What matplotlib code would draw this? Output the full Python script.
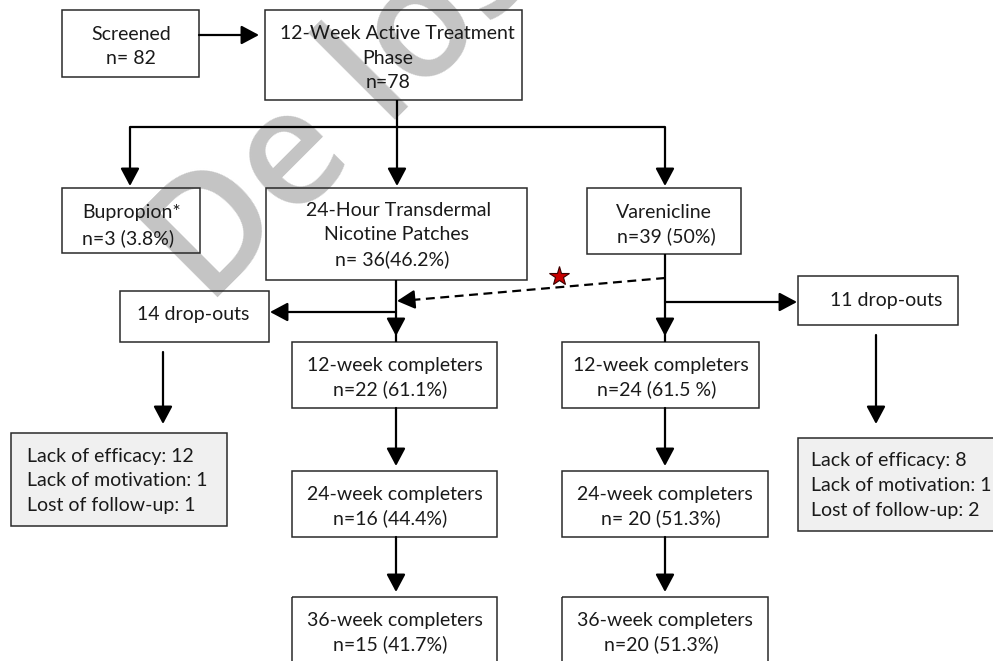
import matplotlib.pyplot as plt
from matplotlib.patches import Rectangle

plt.rcParams['font.family'] = ['Lato', 'DejaVu Sans']

# --- values ---
screened_n = 82
active_n = 78
arm_names = ["Bupropion*", "24-Hour Transdermal\nNicotine Patches", "Varenicline"]
arm_counts = ["n=3 (3.8%)", "n= 36(46.2%)", "n=39 (50%)"]
dropout_counts = [14, 11]
reason_names = ["Lack of efficacy", "Lack of motivation", "Lost of follow-up"]
reasons_nrt = [12, 1, 1]
reasons_var = [8, 1, 2]
completer_weeks = [12, 24, 36]
completers_nrt = ["n=22 (61.1%)", "n=16 (44.4%)", "n=15 (41.7%)"]
completers_var = ["n=24 (61.5 %)", "n= 20 (51.3%)", "n=20 (51.3%)"]

W, H = 993, 661
fig = plt.figure(figsize=(W / 100, H / 100), dpi=100)
ax = fig.add_axes([0, 0, 1, 1])
ax.set_xlim(0, W)
ax.set_ylim(H, 0)
ax.axis('off')

FS = 14
EDGE = '#2a2a2a'


def box(x0, y0, x1, y1, fill='none'):
    ax.add_patch(Rectangle((x0, y0), x1 - x0, y1 - y0, fc=fill, ec=EDGE,
                           lw=1.1, zorder=2))


def txt(x, y, s, ha='center'):
    ax.text(x, y, s, ha=ha, va='center_baseline', fontsize=FS,
            color='#1a1a1a', zorder=4)


def arrow(x0, y0, x1, y1):
    ax.annotate('', xy=(x1, y1), xytext=(x0, y0), zorder=3,
                arrowprops=dict(arrowstyle='-|>,head_length=0.9,head_width=0.48',
                                lw=1.6, color='black', shrinkA=0, shrinkB=0,
                                mutation_scale=12))


def seg(xs, ys):
    ax.plot(xs, ys, color='black', lw=1.6, solid_capstyle='butt', zorder=3)


# watermark (runs off the top edge, as in the original)
ax.text(208, 308, "De los", rotation=45, rotation_mode='anchor', ha='left',
        va='baseline', fontsize=116, family='Open Sans', fontweight='semibold',
        color='#c4c4c4', zorder=1)

# top row
box(62, 10, 199, 77)
txt(131, 33, "Screened")
txt(131, 57, f"n= {screened_n}")
arrow(199, 35, 259, 35)

box(265, 10, 522, 100)
txt(397, 32, "12-Week Active Treatment")
txt(388, 57, "Phase")
txt(388, 81, f"n={active_n}")

# split to three arms
arm_x = [130, 397, 665]
seg([397, 397], [100, 127])
seg([arm_x[0], arm_x[2]], [127, 127])
for x in arm_x:
    arrow(x, 127, x, 186)

# arm boxes
box(62, 188, 200, 253)
txt(82, 211, arm_names[0], ha='left')
txt(82, 237, arm_counts[0], ha='left')

box(266, 188, 527, 280)
nrt_lines = arm_names[1].split("\n")
txt(399, 209, nrt_lines[0])
txt(397, 233, nrt_lines[1])
txt(392, 258, arm_counts[1])

box(587, 188, 741, 254)
txt(664, 211, arm_names[2])
txt(666, 235, arm_counts[2])

# dashed crossover line with star
ax.plot([665, 412], [278, 300], color='black', lw=1.6, dashes=(4, 2.5), zorder=3)
arrow(414, 299.5, 397, 301)
ax.plot(559, 276, marker='*', ms=15, mfc='#c80000', mec='#3a0000', mew=0.8,
        zorder=5)

# drop-outs
arrow(396, 312, 270, 312)
box(120, 291, 269, 342)
txt(193, 313, f"{dropout_counts[0]} drop-outs")

arrow(665, 302, 797, 302)
box(798, 276, 958, 325)
txt(886, 299, f"{dropout_counts[1]} drop-outs")

arrow(163, 352, 163, 424)
arrow(876, 335, 876, 424)

# reasons boxes
box(11, 433, 227, 526, fill='#f0f0f0')
for i, (r, v) in enumerate(zip(reason_names, reasons_nrt)):
    txt(27, 455 + 24.5 * i, f"{r}: {v}", ha='left')

box(798, 438, 1005, 531, fill='#f0f0f0')
for i, (r, v) in enumerate(zip(reason_names, reasons_var)):
    txt(811, 459 + 25 * i, f"{r}: {v}", ha='left')

# completers columns
tops = [342, 471, 597]
heights = [66, 66, 70]
cols = [(396, 292, completers_nrt), (665, 562, completers_var)]
col_right = [[497, 497, 497], [759, 768, 768]]
seg([396, 396], [280, 342])
seg([665, 665], [254, 342])
for (cx, x0, labels), rights in zip(cols, col_right):
    arrow(cx, 320, cx, 336)
    for j, wk in enumerate(completer_weeks):
        top = tops[j]
        box(x0, top, rights[j], top + heights[j])
        mid = (x0 + rights[j]) / 2
        txt(mid, top + 22, f"{wk}-week completers")
        txt(mid - 4, top + 46, labels[j])
        if j < len(completer_weeks) - 1:
            arrow(cx, top + heights[j], cx, tops[j + 1] - 5)

fig.savefig('out.png', dpi=100)
